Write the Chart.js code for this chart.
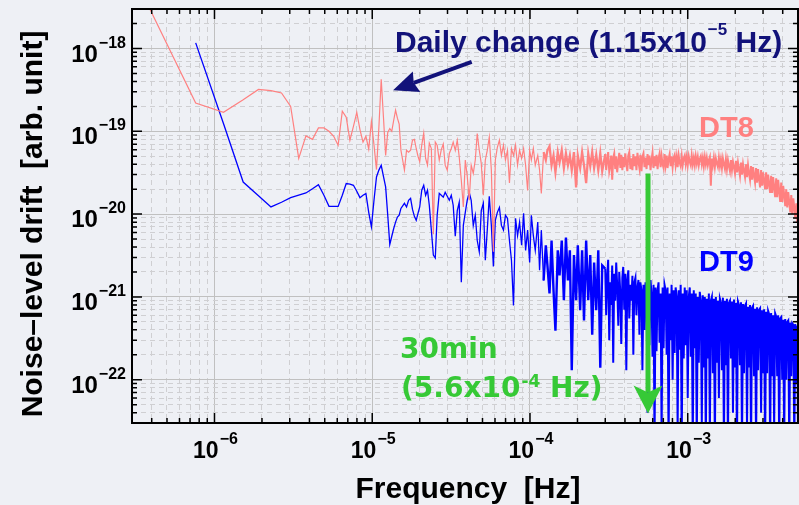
<!DOCTYPE html>
<html>
<head>
<meta charset="utf-8">
<script src="https://cdn.jsdelivr.net/npm/chart.js@4.4.1/dist/chart.umd.min.js"></script>
<style>
html, body { margin: 0; padding: 0; background: #eef0f5; }
</style>
</head>
<body>
<canvas id="chartCanvas" width="799" height="505"></canvas>
<script>
// frequency in µHz : first 40 entries are the single FFT bins, then sampled
const freqMicroHz = [
  0.38, 0.76, 1.14, 1.52, 1.90, 2.28, 2.66, 3.04, 3.42, 3.80,
  4.18, 4.56, 4.94, 5.32, 5.70, 6.08, 6.46, 6.84, 7.22, 7.60,
  7.98, 8.36, 8.74, 9.12, 9.50, 9.88, 10.26, 10.64, 11.02, 11.40,
  11.78, 12.16, 12.54, 12.92, 13.30, 13.68, 14.06, 14.44, 14.82, 15.20,
  16, 16.5, 17, 17.5, 18, 18.5, 19, 19.5, 20, 20.6,
  21.2, 21.8, 22.4, 23, 23.7, 24.4, 25.1, 25.8, 26.6, 27.4,
  28.2, 29, 29.9, 30.8, 31.7, 32.6, 33.6, 34.6, 35.6, 36.7,
  37.8, 38.9, 40, 41.2, 42.4, 43.7, 45, 46.3, 47.7, 49.1,
  50.6, 52.1, 53.6, 55.2, 56.9, 58.6, 60.3, 62.1, 64, 65.9,
  67.9, 69.9, 72, 74.1, 76.3, 78.6, 81, 83.4, 85.9, 88.5,
  91.1, 93.8, 96.6, 99.5, 102, 105, 108, 112, 115, 118,
  122, 126, 129, 133, 137, 141, 145, 150, 154, 159,
  164, 169, 174, 179, 184, 190, 196, 201, 208, 214,
  220, 227, 234, 241, 248, 255, 263, 271, 279, 287,
  300, 304, 309, 313, 318, 323, 327, 332, 337, 342,
  347, 352, 357, 363, 368, 374, 379, 385, 390, 396,
  402, 408, 414, 420, 426, 433, 439, 446, 452, 459,
  466, 473, 480, 487, 494, 501, 509, 516, 524, 532,
  540, 548, 556, 564, 572, 581, 589, 598, 607, 616,
  625, 634, 644, 653, 663, 673, 683, 693, 703, 713,
  724, 735, 745, 756, 768, 779, 790, 802, 814, 826,
  838, 851, 863, 876, 889, 902, 916, 929, 943, 957,
  971, 985, 1000, 1015, 1030, 1045, 1060, 1076, 1092, 1108,
  1124, 1141, 1158, 1175, 1192, 1210, 1228, 1246, 1264, 1283,
  1302, 1321, 1341, 1361, 1381, 1401, 1422, 1443, 1464, 1486,
  1508, 1530, 1553, 1576, 1599, 1623, 1647, 1671, 1696, 1721,
  1746, 1772, 1798, 1825, 1852, 1879, 1907, 1935, 1964, 1993,
  2022, 2052, 2082, 2113, 2144, 2176, 2208, 2241, 2274, 2307,
  2341, 2376, 2411, 2447, 2483, 2520, 2557, 2595, 2633, 2672,
  2711, 2751, 2792, 2833, 2875, 2918, 2961, 3004, 3049, 3094,
  3139, 3186, 3233, 3281, 3329, 3378, 3428, 3479, 3530, 3583,
  3636, 3690, 3744, 3800, 3856, 3913, 3971, 4030, 4089, 4150,
  4211, 4274, 4337, 4401, 4466, 4532, 4600, 4668, 4737, 4807,
  4879, 4951, 5000
];

// DT8 noise-level drift [arb. unit]
const dt8Level = [
  3.3e-18, 2.2e-19, 1.7e-19, 2.4e-19, 3.2e-19, 3.1e-19, 2.9e-19, 2.0e-19, 4.7e-20, 8.8e-20,
  8.0e-20, 1.1e-19, 1.1e-19, 1.0e-19, 8.7e-20, 6.8e-20, 1.75e-19, 1.48e-19, 7.8e-20, 1.15e-19,
  1.69e-19, 1.05e-19, 7.4e-20, 8.7e-20, 6.1e-20, 1.32e-19, 6.8e-20, 3.45e-20, 1.12e-19, 4.26e-19,
  1.48e-19, 5.1e-20, 9.7e-20, 1.08e-19, 1.0e-19, 1.36e-19, 1.8e-19, 1.44e-19, 1.22e-19, 5.9e-20,
  3.4e-20, 5.9e-20, 5.6e-20, 5.9e-20, 7.8e-20, 8.0e-20, 6.2e-20, 5.0e-20, 4.3e-20, 6.8e-20,
  9.5e-20, 4.7e-20, 3.9e-20, 7.2e-20, 6.2e-20, 5.7e-21, 7.4e-20, 6.8e-20, 4.5e-20, 6.0e-20,
  7.0e-20, 3.9e-20, 3.4e-20, 5.4e-20, 6.2e-20, 7.4e-20, 5.9e-20, 7.8e-20, 4.9e-20, 2.56e-20,
  1.22e-20, 4.5e-20, 2.9e-20, 1.47e-20, 3.9e-20, 3.1e-20, 4.5e-20, 9.4e-20, 5.9e-20, 4.1e-20,
  1.69e-20, 4.5e-20, 5.9e-20, 8.5e-20, 3.4e-20, 3.5e-21, 4.5e-20, 6.4e-20, 7.8e-20, 5.1e-20,
  6.8e-20, 4.5e-20, 5.9e-20, 2.37e-20, 6.2e-20, 5.1e-20, 6.8e-20, 3.9e-20, 5.9e-20, 4.7e-20,
  6.2e-20, 3.9e-20, 1.93e-20, 5.9e-20, 4.5e-20, 6.2e-20, 3.9e-20, 5.1e-20, 3.4e-20, 1.78e-20,
  5.6e-20, 4.5e-20, 5.9e-20, 6.6e-20, 3.9e-20, 5.1e-20, 3.2e-20, 5.6e-20, 4.2e-20, 5.9e-20,
  3.6e-20, 5.4e-20, 3.9e-20, 5.1e-20, 3.4e-20, 5.6e-20, 2.1e-20, 5.1e-20, 3.6e-20, 5.6e-20,
  3.9e-20, 2.37e-20, 5.4e-20, 3.8e-20, 5.6e-20, 3.6e-20, 5.2e-20, 3.4e-20, 5.4e-20, 3.3e-20,
  5.3e-20, 3.4e-20, 4.6e-20, 5.6e-20, 3.3e-20, 3.9e-20, 5.1e-20, 2.6e-20, 4.8e-20, 5.4e-20,
  3.5e-20, 5.0e-20, 3.2e-20, 4.4e-20, 5.5e-20, 3.6e-20, 5.2e-20, 3.4e-20, 4.9e-20, 3.7e-20,
  5.4e-20, 4.1e-20, 3.3e-20, 5.1e-20, 5.6e-20, 3.5e-20, 4.7e-20, 3.4e-20, 5.3e-20, 3.8e-20,
  5.0e-20, 3.4e-20, 5.5e-20, 4.3e-20, 3.6e-20, 5.2e-20, 3.3e-20, 4.9e-20, 5.4e-20, 3.7e-20,
  4.8e-20, 3.5e-20, 5.3e-20, 3.9e-20, 5.1e-20, 3.4e-20, 4.5e-20, 5.5e-20, 3.6e-20, 5.0e-20,
  3.8e-20, 5.2e-20, 3.5e-20, 4.7e-20, 5.4e-20, 3.7e-20, 5.0e-20, 4.0e-20, 3.6e-20, 5.3e-20,
  3.9e-20, 5.1e-20, 3.6e-20, 4.6e-20, 5.3e-20, 3.8e-20, 5.0e-20, 3.7e-20, 4.8e-20, 5.2e-20,
  3.9e-20, 4.9e-20, 3.7e-20, 5.1e-20, 4.2e-20, 3.8e-20, 5.0e-20, 3.9e-20, 4.7e-20, 5.1e-20,
  4.0e-20, 4.9e-20, 3.9e-20, 5.0e-20, 4.3e-20, 3.9e-20, 5.1e-20, 4.0e-20, 4.8e-20, 3.9e-20,
  5.0e-20, 4.1e-20, 4.9e-20, 3.9e-20, 4.6e-20, 5.0e-20, 4.0e-20, 4.8e-20, 3.8e-20, 4.9e-20,
  4.0e-20, 4.8e-20, 3.9e-20, 4.5e-20, 4.9e-20, 2.2e-20, 4.7e-20, 3.9e-20, 4.8e-20, 3.7e-20,
  4.7e-20, 4.1e-20, 3.7e-20, 4.8e-20, 3.8e-20, 4.6e-20, 3.6e-20, 4.7e-20, 4.0e-20, 3.5e-20,
  4.6e-20, 3.5e-20, 4.5e-20, 3.8e-20, 3.3e-20, 4.5e-20, 3.4e-20, 4.3e-20, 3.7e-20, 3.1e-20,
  4.4e-20, 3.2e-20, 4.2e-20, 3.5e-20, 2.9e-20, 4.2e-20, 3.0e-20, 4.0e-20, 3.3e-20, 2.8e-20,
  4.0e-20, 2.8e-20, 3.9e-20, 3.1e-20, 2.6e-20, 3.8e-20, 2.6e-20, 3.7e-20, 2.9e-20, 2.4e-20,
  3.6e-20, 2.4e-20, 3.5e-20, 2.7e-20, 2.1e-20, 3.4e-20, 2.2e-20, 3.2e-20, 2.5e-20, 2.0e-20,
  3.2e-20, 2.0e-20, 3.0e-20, 2.3e-20, 1.8e-20, 2.9e-20, 1.8e-20, 2.8e-20, 2.1e-20, 1.6e-20,
  2.7e-20, 1.6e-20, 2.6e-20, 1.9e-20, 1.4e-20, 2.4e-20, 1.4e-20, 2.2e-20, 1.7e-20, 1.25e-20,
  2.0e-20, 1.2e-20, 1.85e-20, 1.4e-20, 1.05e-20, 1.7e-20, 1.0e-20, 1.55e-20, 1.2e-20, 8.8e-21,
  1.35e-20, 8.0e-21, 1.05e-20
];

// DT9 noise-level drift [arb. unit]
const dt9Level = [
  null, 1.17e-18, 1.24e-19, 2.44e-20, 1.67e-20, 1.22e-20, 1.39e-20, 1.58e-20, 1.69e-20, 1.8e-20,
  2.02e-20, 2.27e-20, 1.69e-20, 1.24e-20, 1.24e-20, 1.24e-20, 1.69e-20, 2.34e-20, 2.3e-20, 2.23e-20,
  1.89e-20, 1.58e-20, 1.69e-20, 1.77e-20, 1.05e-20, 7.0e-21, 1.47e-20, 2.81e-20, 3.4e-20, 3.89e-20,
  2.86e-20, 2.13e-20, 9.7e-21, 4.3e-21, 5.4e-21, 6.7e-21, 8.0e-21, 9.2e-21, 9.7e-21, 1.17e-20,
  1.35e-20, 1.22e-20, 1.47e-20, 1.55e-20, 1.14e-20, 9.4e-21, 8.4e-21, 1.02e-20, 1.22e-20, 1.94e-20,
  2.23e-20, 1.69e-20, 1.94e-20, 1.28e-20, 6.4e-21, 3.2e-21, 2.95e-21, 9.7e-21, 1.78e-20, 1.69e-20,
  1.6e-20, 1.83e-20, 1.64e-20, 1.47e-20, 1.69e-20, 1.28e-20, 5.4e-21, 1.1e-20, 1.39e-20, 1.5e-21,
  7.3e-21, 1.05e-20, 1.47e-20, 1.83e-20, 1.47e-20, 7.3e-21, 9.7e-21, 4.8e-21, 3.5e-21, 1.1e-20,
  1.35e-20, 2.77e-21, 6.4e-21, 1.64e-20, 7.3e-21, 2.33e-21, 8.4e-21, 1.05e-20, 1.2e-20, 7.3e-21,
  6.4e-21, 9.7e-21, 8.9e-21, 4.8e-21, 2.77e-21, 7.9e-22, 8.9e-21, 5.5e-21, 8.0e-21, 4.2e-21,
  1.02e-20, 3.65e-21, 6.4e-21, 2.6e-21, 9.7e-21, 5.5e-21, 3.65e-21, 8.0e-21, 2.1e-21, 6.4e-21,
  1.58e-21, 4.2e-21, 2.4e-21, 1.1e-21, 4.8e-21, 1.2e-21, 3.9e-22, 3.65e-21, 1.82e-21, 4.8e-21,
  9.1e-22, 5.2e-21, 1.58e-21, 3.65e-21, 1.3e-22, 3.2e-21, 9.1e-22, 4.2e-21, 6.9e-22, 3.65e-21,
  5.2e-22, 4.8e-21, 9.1e-22, 3.2e-21, 3.5e-22, 2.6e-21, 6.9e-22, 3.65e-21, 1.4e-22, 2.4e-21,
  2.2e-21, 6.0e-22, 1.8e-21, 2.8e-21, 3.0e-22, 1.5e-21, 8.0e-22, 2.4e-21, 1.6e-22, 1.9e-21,
  9.0e-22, 2.6e-21, 1.4e-21, 4.5e-22, 2.0e-21, 1.1e-21, 2.7e-22, 1.7e-21, 2.3e-21, 7.0e-22,
  1.9e-21, 1.3e-22, 1.6e-21, 2.1e-21, 5.5e-22, 1.4e-21, 9.0e-22, 1.8e-21, 2.0e-22, 1.5e-21,
  1.7e-21, 6.0e-22, 1.3e-21, 1.6e-21, 3.5e-22, 1.5e-21, 1.2e-21, 1.3e-22, 1.4e-21, 4.0e-22,
  1.5e-21, 1.2e-21, 4.0e-23, 1.3e-21, 2.6e-22, 1.6e-21, 1.1e-21, 1.9e-22, 1.4e-21, 1.5e-23,
  1.3e-21, 2.2e-22, 1.2e-21, 1.5e-21, 2.8e-22, 1.1e-21, 2.0e-23, 1.3e-21, 2.4e-22, 1.4e-21,
  1.2e-21, 2.0e-22, 1.3e-21, 1.5e-23, 1.1e-21, 3.0e-22, 1.4e-21, 1.0e-22, 1.2e-21, 2.1e-22,
  1.3e-21, 1.0e-21, 2.5e-23, 1.2e-21, 2.3e-22, 1.4e-21, 1.5e-23, 1.1e-21, 1.8e-22, 1.3e-21,
  2.6e-22, 1.2e-21, 6.0e-23, 1.0e-21, 1.3e-21, 1.9e-22, 1.1e-21, 1.5e-23, 1.2e-21, 2.4e-22,
  1.1e-21, 1.5e-23, 1.0e-21, 1.6e-22, 1.15e-21, 9.0e-22, 3.0e-23, 1.05e-21, 1.4e-22, 1.0e-21,
  1.5e-23, 9.5e-22, 1.8e-22, 1.1e-21, 2.0e-23, 9.0e-22, 1.0e-21, 1.2e-22, 9.5e-22, 1.5e-23,
  1.0e-21, 1.6e-22, 9.0e-22, 6.0e-23, 9.5e-22, 8.5e-22, 1.3e-22, 9.8e-22, 1.5e-23, 9.0e-22,
  1.5e-22, 9.5e-22, 1.5e-23, 8.5e-22, 9.0e-22, 1.8e-22, 8.8e-22, 4.0e-23, 9.3e-22, 1.4e-22,
  8.5e-22, 1.5e-23, 8.8e-22, 8.0e-22, 1.5e-22, 8.6e-22, 1.5e-23, 8.2e-22, 1.2e-22, 7.8e-22,
  8.3e-22, 2.5e-23, 7.6e-22, 1.4e-22, 8.0e-22, 1.5e-23, 7.4e-22, 7.8e-22, 1.1e-22, 7.2e-22,
  1.5e-23, 7.5e-22, 1.3e-22, 7.0e-22, 7.3e-22, 4.0e-23, 6.9e-22, 1.2e-22, 7.1e-22, 1.5e-23,
  6.6e-22, 1.2e-22, 6.8e-22, 6.2e-22, 1.5e-23, 6.4e-22, 1.1e-22, 6.0e-22, 2.5e-23, 6.3e-22,
  5.8e-22, 1.1e-22, 6.0e-22, 1.5e-23, 5.5e-22, 5.7e-22, 1.0e-22, 5.3e-22, 2.0e-23, 5.4e-22,
  1.0e-22, 5.0e-22, 5.2e-22, 1.5e-23, 4.9e-22, 1.1e-22, 4.8e-22, 4.6e-22, 1.5e-23, 4.7e-22,
  9.0e-23, 4.5e-22, 2.0e-23
];

// labelled decades (exponents of 10)
const xDecades = [-6, -5, -4, -3];
const yDecades = [-22, -21, -20, -19, -18];

// annotation anchors in data coordinates [Hz, arb. unit]
const dailyArrow = { tail: [4.27e-5, 6.9e-19], tip: [1.355e-5, 3.13e-19] };
const halfHourArrow = { tail: [5.6e-4, 3.1e-20], tip: [5.6e-4, 3.9e-23] };

const SANS = '"Liberation Sans", Arial, Helvetica, sans-serif';
const WIDE = '"DejaVu Sans", Verdana, sans-serif';
const GREEN = '#36c936';
const NAVY = '#12127a';

function toPoints(values) {
    const pts = [];
    freqMicroHz.forEach((f, i) => {
        if (values[i] != null) pts.push({ x: f * 1e-6, y: values[i] });
    });
    return pts;
}

function mantissa(v) {
    return v / Math.pow(10, Math.floor(Math.log10(v) + 1e-9));
}
function isDecade(v) {
    return Math.abs(mantissa(v) - 1) < 1e-6;
}
function isWhole(v) {
    const m = mantissa(v);
    return Math.abs(m - Math.round(m)) < 1e-6;
}

const gridOpts = {
    drawTicks: false,
    lineWidth: 1,
    color: c => {
        if (!c.tick || !isWhole(c.tick.value)) return 'rgba(0,0,0,0)';
        return isDecade(c.tick.value) ? '#c0c0c0' : '#cfcfd2';
    }
};
const borderOpts = {
    display: false,
    dash: c => (c.tick && !isDecade(c.tick.value)) ? [5, 4] : []
};

// stroke width by frequency range (the spectrum gets very dense)
const segWidth = (base, mid, dense) => s => {
    const f = s.p0.parsed.x;
    return f < 1.2e-4 ? base : f < 2.95e-4 ? mid : dense;
};

// draws text pieces one after another; sup pieces are smaller and raised
function richText(c, x, y, parts, family, align) {
    let w = 0;
    parts.forEach(p => {
        c.font = 'bold ' + p.size + 'px ' + family;
        p.w = c.measureText(p.text).width;
        w += p.w + (p.gap || 0);
    });
    let cx = align === 'right' ? x - w : align === 'center' ? x - w / 2 : x;
    parts.forEach(p => {
        cx += p.gap || 0;
        c.font = 'bold ' + p.size + 'px ' + family;
        c.fillText(p.text, cx, y - (p.rise || 0));
        cx += p.w;
    });
}

function drawArrow(c, x0, y0, x1, y1, width, headLen, headHalf, notch, color) {
    const ang = Math.atan2(y1 - y0, x1 - x0);
    const ux = Math.cos(ang), uy = Math.sin(ang);
    const bx = x1 - ux * headLen, by = y1 - uy * headLen;
    c.strokeStyle = color;
    c.fillStyle = color;
    c.lineWidth = width;
    c.lineCap = 'butt';
    c.beginPath();
    c.moveTo(x0, y0);
    c.lineTo(bx + ux * notch, by + uy * notch);
    c.stroke();
    c.beginPath();
    c.moveTo(x1, y1);
    c.lineTo(bx - uy * headHalf, by + ux * headHalf);
    c.lineTo(bx + ux * notch, by + uy * notch);
    c.lineTo(bx + uy * headHalf, by - ux * headHalf);
    c.closePath();
    c.fill();
}

const framePlugin = {
    id: 'frame',
    beforeDraw(chart) {
        const c = chart.ctx;
        c.save();
        c.fillStyle = '#eef0f5';
        c.fillRect(0, 0, chart.width, chart.height);
        c.restore();
    },
    afterDatasetsDraw(chart) {
        const c = chart.ctx;
        const a = chart.chartArea;
        const xs = chart.scales.x, ys = chart.scales.y;
        c.save();
        c.strokeStyle = '#000';
        c.lineWidth = 1.5;
        c.beginPath();
        xs.ticks.forEach(t => {
            if (!isWhole(t.value)) return;
            const px = xs.getPixelForValue(t.value);
            if (px <= a.left + 1 || px >= a.right - 1) return;
            const len = isDecade(t.value) ? 10 : 5;
            c.moveTo(px, a.bottom); c.lineTo(px, a.bottom - len);
            c.moveTo(px, a.top); c.lineTo(px, a.top + len);
        });
        ys.ticks.forEach(t => {
            if (!isWhole(t.value)) return;
            const py = ys.getPixelForValue(t.value);
            if (py <= a.top + 1 || py >= a.bottom - 1) return;
            const len = isDecade(t.value) ? 10 : 5;
            c.moveTo(a.left, py); c.lineTo(a.left + len, py);
            c.moveTo(a.right, py); c.lineTo(a.right - len, py);
        });
        c.stroke();
        c.lineWidth = 2;
        c.strokeRect(a.left, a.top, a.right - a.left, a.bottom - a.top);

        // 30 min arrow
        drawArrow(c,
            xs.getPixelForValue(halfHourArrow.tail[0]), ys.getPixelForValue(halfHourArrow.tail[1]),
            xs.getPixelForValue(halfHourArrow.tip[0]), ys.getPixelForValue(halfHourArrow.tip[1]),
            5, 28, 14.5, 7, GREEN);
        // daily change arrow
        drawArrow(c,
            xs.getPixelForValue(dailyArrow.tail[0]), ys.getPixelForValue(dailyArrow.tail[1]),
            xs.getPixelForValue(dailyArrow.tip[0]), ys.getPixelForValue(dailyArrow.tip[1]),
            4, 25, 11, 3, NAVY);
        c.restore();
    },
    afterDraw(chart) {
        const c = chart.ctx;
        const a = chart.chartArea;
        const xs = chart.scales.x, ys = chart.scales.y;
        c.save();
        c.fillStyle = '#000';
        c.textBaseline = 'alphabetic';
        c.textAlign = 'left';

        // tick labels
        yDecades.forEach(e => {
            const py = ys.getPixelForValue(Math.pow(10, e));
            richText(c, a.left - 6, py + 13, [
                { text: '10', size: 24 },
                { text: '\u2212' + Math.abs(e), size: 16, rise: 14, gap: 1 }
            ], SANS, 'right');
        });
        xDecades.forEach(e => {
            const px = xs.getPixelForValue(Math.pow(10, e));
            richText(c, px + 1, a.bottom + 35, [
                { text: '10', size: 23 },
                { text: '\u2212' + Math.abs(e), size: 16, rise: 14, gap: 1 }
            ], SANS, 'center');
        });

        // axis titles
        c.font = 'bold 30px ' + SANS;
        c.textAlign = 'center';
        c.fillText('Frequency  [Hz]', (a.left + a.right) / 2 + 3, 498);
        c.save();
        c.translate(42, 224);
        c.rotate(-Math.PI / 2);
        c.fillText('Noise\u2013level drift  [arb. unit]', 0, 0);
        c.restore();
        c.textAlign = 'left';

        // annotations
        c.fillStyle = NAVY;
        richText(c, 395, 52, [
            { text: 'Daily change (1.15x10', size: 30 },
            { text: '\u22125', size: 17, rise: 17, gap: 1 },
            { text: ' Hz)', size: 30 }
        ], SANS, 'left');

        c.fillStyle = '#ff8080';
        c.font = 'bold 29px ' + SANS;
        c.fillText('DT8', 699, 137);
        c.fillStyle = '#0000ff';
        c.fillText('DT9', 699, 271);

        c.fillStyle = GREEN;
        c.font = 'bold 28px ' + WIDE;
        c.fillText('30min', 400, 358);
        richText(c, 401, 397, [
            { text: '(5.6x10', size: 28 },
            { text: '-4', size: 17, rise: 10, gap: 1 },
            { text: ' Hz)', size: 28 }
        ], WIDE, 'left');
        c.restore();
    }
};

const ctx = document.getElementById('chartCanvas').getContext('2d');
const chart = new Chart(ctx, {
    type: 'line',
    data: {
        datasets: [
            {
                label: 'DT8',
                data: toPoints(dt8Level),
                borderColor: '#ff8080',
                borderWidth: 1.2,
                segment: { borderWidth: segWidth(1.2, 2.3, 2) },
                pointRadius: 0,
                tension: 0,
                fill: false
            },
            {
                label: 'DT9',
                data: toPoints(dt9Level),
                borderColor: '#0000ff',
                borderWidth: 1.3,
                segment: { borderWidth: segWidth(1.3, 2.4, 2) },
                pointRadius: 0,
                tension: 0,
                fill: false
            }
        ]
    },
    options: {
        responsive: false,
        animation: false,
        devicePixelRatio: 1,
        layout: { padding: { top: 9, right: 1, left: 0, bottom: 0 } },
        plugins: { legend: { display: false }, tooltip: { enabled: false } },
        scales: {
            x: {
                type: 'logarithmic',
                min: 3e-7,
                max: 5e-3,
                ticks: { display: false },
                grid: gridOpts,
                border: borderOpts,
                afterFit: s => { s.height = 82; }
            },
            y: {
                type: 'logarithmic',
                min: 3e-23,
                max: 3e-18,
                ticks: { display: false },
                grid: gridOpts,
                border: borderOpts,
                afterFit: s => { s.width = 132; }
            }
        }
    },
    plugins: [framePlugin]
});
</script>
</body>
</html>
